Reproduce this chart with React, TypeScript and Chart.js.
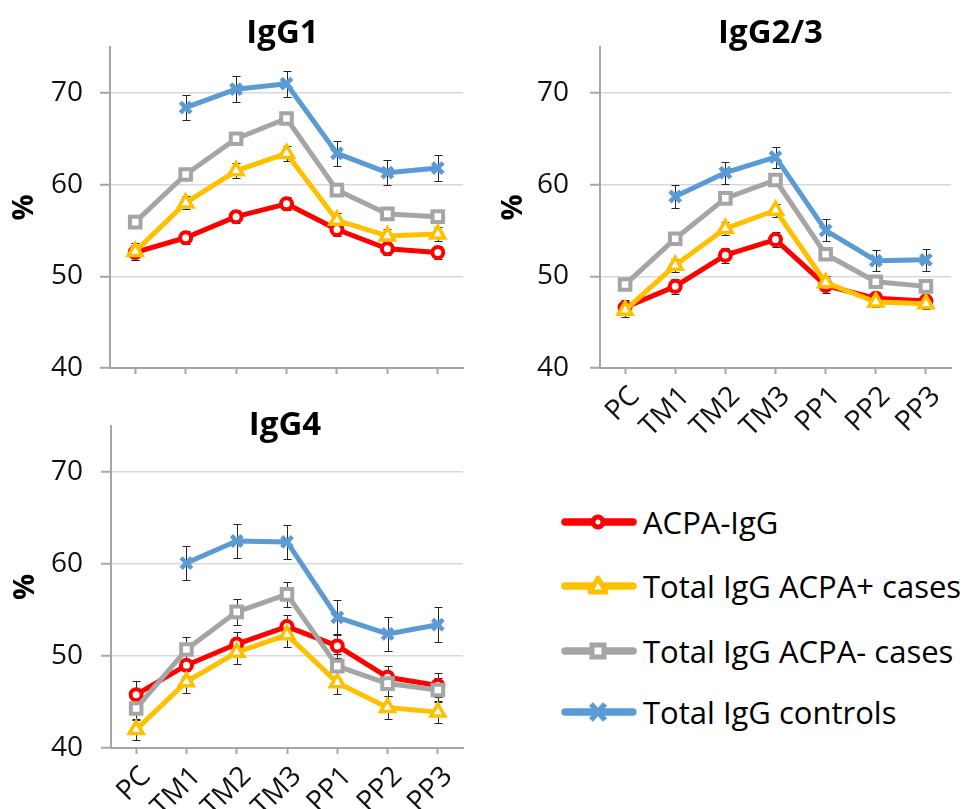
import React, { useEffect, useRef } from "react";
import { Chart, registerables } from "chart.js";

Chart.register(...registerables);

// ---------- data ----------
const categories = ["PC", "TM1", "TM2", "TM3", "PP1", "PP2", "PP3"];
const seriesNames = ["ACPA-IgG", "Total IgG ACPA+ cases", "Total IgG ACPA- cases", "Total IgG controls"];
const seriesColors = ["#FF0000", "#FFC000", "#A5A5A5", "#5B9BD5"];
const yMin = 40;
const yMax = 75;
const yStep = 10;

// IgG1
const igg1Acpa = [52.6, 54.2, 56.5, 57.9, 55.1, 53.0, 52.6];
const igg1Pos = [52.7, 58.0, 61.5, 63.4, 56.1, 54.4, 54.6];
const igg1Neg = [55.9, 61.1, 65.0, 67.2, 59.4, 56.8, 56.5];
const igg1Ctrl = [null, 68.4, 70.4, 71.0, 63.4, 61.3, 61.8];
const igg1AcpaErr = [0.8, 0.7, 0.7, 0.7, 0.7, 0.7, 0.7];
const igg1PosErr = [0.9, 0.7, 0.8, 0.8, 0.8, 0.8, 0.8];
const igg1NegErr = [0.5, 0.5, 0.5, 0.5, 0.5, 0.5, 0.5];
const igg1CtrlErr = [null, 1.4, 1.4, 1.4, 1.4, 1.4, 1.45];

// IgG2/3
const igg23Acpa = [46.6, 48.9, 52.3, 54.0, 49.0, 47.6, 47.3];
const igg23Pos = [46.3, 51.2, 55.2, 57.2, 49.3, 47.2, 47.0];
const igg23Neg = [49.1, 54.1, 58.5, 60.5, 52.4, 49.4, 48.9];
const igg23Ctrl = [null, 58.7, 61.3, 63.0, 55.0, 51.7, 51.8];
const igg23AcpaErr = [0.8, 0.8, 0.8, 0.8, 0.8, 0.7, 0.7];
const igg23PosErr = [0.7, 0.7, 0.7, 0.7, 0.7, 0.6, 0.6];
const igg23NegErr = [0.5, 0.5, 0.5, 0.5, 0.5, 0.5, 0.5];
const igg23CtrlErr = [null, 1.2, 1.2, 1.15, 1.2, 1.15, 1.2];

// IgG4
const igg4Acpa = [45.8, 49.0, 51.3, 53.2, 51.1, 47.7, 46.8];
const igg4Pos = [42.0, 47.2, 50.4, 52.3, 47.1, 44.4, 43.9];
const igg4Neg = [44.3, 50.7, 54.8, 56.7, 48.9, 47.0, 46.3];
const igg4Ctrl = [null, 60.1, 62.5, 62.4, 54.2, 52.4, 53.4];
const igg4AcpaErr = [1.5, 1.2, 1.3, 1.3, 1.3, 1.25, 1.3];
const igg4PosErr = [1.1, 1.2, 1.3, 1.3, 1.2, 1.2, 1.2];
const igg4NegErr = [1.3, 1.4, 1.4, 1.35, 1.3, 1.3, 1.3];
const igg4CtrlErr = [null, 1.85, 1.85, 1.85, 1.9, 1.85, 1.9];

const FONT = "'Open Sans', 'Noto Sans', sans-serif";
const AXIS_COLOR = "#A6A6A6";
const GRID_COLOR = "#D9D9D9";

// ---------- plugins ----------
const errorBarPlugin = {
  id: "errorBars",
  beforeDatasetsDraw(chart: any) {
    const { ctx } = chart;
    const xs = chart.scales.x;
    const ys = chart.scales.y;
    ctx.save();
    ctx.strokeStyle = "#262626";
    ctx.lineWidth = 1;
    chart.data.datasets.forEach((ds: any) => {
      const errs = ds.errors;
      if (!errs) return;
      ds.data.forEach((v: number | null, i: number) => {
        const e = errs[i];
        if (v == null || e == null) return;
        const x = Math.round(xs.getPixelForValue(i)) + 0.5;
        const y1 = Math.round(ys.getPixelForValue(v + e)) + 0.5;
        const y2 = Math.round(ys.getPixelForValue(v - e)) + 0.5;
        ctx.beginPath();
        ctx.moveTo(x, y1);
        ctx.lineTo(x, y2);
        ctx.moveTo(x - 4, y1);
        ctx.lineTo(x + 4, y1);
        ctx.moveTo(x - 4, y2);
        ctx.lineTo(x + 4, y2);
        ctx.stroke();
      });
    });
    ctx.restore();
  },
};

const panelTitlePlugin = {
  id: "panelTitle",
  afterDraw(chart: any, _args: any, opts: any) {
    if (!opts || !opts.text) return;
    const { ctx, chartArea } = chart;
    ctx.save();
    ctx.font = `bold 33px ${FONT}`;
    ctx.fillStyle = "#000";
    ctx.textAlign = "center";
    ctx.textBaseline = "alphabetic";
    ctx.fillText(opts.text, (chartArea.left + chartArea.right) / 2 + (opts.dx || 0), opts.baseline);
    ctx.restore();
  },
};

type PanelProps = {
  title: string;
  acpa: (number | null)[];
  pos: (number | null)[];
  neg: (number | null)[];
  ctrl: (number | null)[];
  acpaErr: (number | null)[];
  posErr: (number | null)[];
  negErr: (number | null)[];
  ctrlErr: (number | null)[];
  left: number;
  top: number;
  width: number;
  height: number;
  padTop: number;
  padRight: number;
  yAxisWidth: number;
  xAxisHeight: number;
  showX: boolean;
  titleBaseline: number;
  titleDx: number;
  yTitlePad: number;
  yTickPad: number;
};

function Panel(p: PanelProps) {
  const ref = useRef<HTMLCanvasElement>(null);
  useEffect(() => {
    const mk = (i: number, data: any[], errors: any[], style: string, radius: number, pbw: number) => ({
      label: seriesNames[i],
      data,
      errors,
      borderColor: seriesColors[i],
      backgroundColor: "#FFFFFF",
      borderWidth: 5,
      borderJoinStyle: "round",
      borderCapStyle: "round",
      pointStyle: style,
      pointRadius: radius,
      pointHoverRadius: radius,
      pointBorderWidth: pbw,
      pointBackgroundColor: "#FFFFFF",
      pointBorderColor: seriesColors[i],
      order: 4 - i,
      tension: 0,
    });
    const chart = new Chart(ref.current as HTMLCanvasElement, {
      type: "line",
      data: {
        labels: categories,
        datasets: [
          mk(0, p.acpa, p.acpaErr, "circle", 5.5, 4),
          mk(1, p.pos, p.posErr, "triangle", 8, 3.5),
          mk(2, p.neg, p.negErr, "rect", 7.5, 4),
          mk(3, p.ctrl, p.ctrlErr, "crossRot", 7.5, 4.5),
        ] as any,
      },
      options: {
        animation: false,
        responsive: false,
        events: [],
        layout: { padding: { top: p.padTop, right: p.padRight, left: 0, bottom: 0 } },
        plugins: {
          legend: { display: false },
          tooltip: { enabled: false },
          panelTitle: { text: p.title, baseline: p.titleBaseline, dx: p.titleDx },
        } as any,
        scales: {
          x: {
            type: "category",
            offset: true,
            grid: {
              display: true,
              drawOnChartArea: false,
              drawTicks: true,
              tickLength: 6,
              tickColor: AXIS_COLOR,
              tickWidth: 2,
              offset: false,
            },
            border: { display: true, color: AXIS_COLOR, width: 2 },
            ticks: {
              display: p.showX,
              autoSkip: false,
              maxRotation: 45,
              minRotation: 45,
              padding: 6,
              labelOffset: 10,
              color: "#111",
              font: { family: FONT, size: 28 },
            },
            afterFit(s: any) {
              s.height = p.xAxisHeight;
              s.paddingLeft = 0;
              s.paddingRight = 0;
            },
          },
          y: {
            min: yMin,
            max: yMax,
            ticks: {
              stepSize: yStep,
              includeBounds: false,
              padding: p.yTickPad,
              color: "#111",
              font: { family: FONT, size: 28 },
            },
            grid: {
              color: GRID_COLOR,
              lineWidth: 1.5,
              drawTicks: true,
              tickLength: 10,
              tickColor: AXIS_COLOR,
              tickWidth: 2,
            },
            border: { display: true, color: AXIS_COLOR, width: 2 },
            title: {
              display: true,
              text: "%",
              color: "#000",
              font: { family: FONT, size: 29, weight: "bold" },
              padding: { top: p.yTitlePad, bottom: 0 },
            },
            afterFit(s: any) {
              s.width = p.yAxisWidth;
              s.paddingTop = 0;
              s.paddingBottom = 0;
            },
          },
        } as any,
      },
      plugins: [errorBarPlugin, panelTitlePlugin],
    });
    return () => chart.destroy();
  }, []);
  return (
    <canvas
      ref={ref}
      width={p.width}
      height={p.height}
      style={{ position: "absolute", left: p.left, top: p.top, width: p.width, height: p.height }}
    />
  );
}

function LegendMarker({ i }: { i: number }) {
  const c = seriesColors[i];
  const cx = 37;
  const cy = 15;
  let marker: React.ReactNode = null;
  if (i === 0) marker = <circle cx={cx} cy={cy} r={5} fill="#fff" stroke={c} strokeWidth={5} />;
  if (i === 1)
    marker = (
      <polygon
        points={`${cx},${cy - 8} ${cx + 8},${cy + 6} ${cx - 8},${cy + 6}`}
        fill="#fff"
        stroke={c}
        strokeWidth={5}
        strokeLinejoin="round"
      />
    );
  if (i === 2) marker = <rect x={cx - 6} y={cy - 6} width={12} height={12} fill="#fff" stroke={c} strokeWidth={5} />;
  if (i === 3)
    marker = (
      <g stroke={c} strokeWidth={5.5} strokeLinecap="butt">
        <line x1={cx - 7} y1={cy - 8} x2={cx + 7} y2={cy + 8} />
        <line x1={cx + 7} y1={cy - 8} x2={cx - 7} y2={cy + 8} />
      </g>
    );
  return (
    <svg width={80} height={30} style={{ display: "block" }}>
      <line x1={4} y1={cy} x2={72} y2={cy} stroke={c} strokeWidth={7.5} strokeLinecap="round" />
      {marker}
    </svg>
  );
}

function Legend() {
  const centers = [522, 586, 651, 712];
  return (
    <>
      {seriesNames.map((name, i) => (
        <div
          key={name}
          style={{
            position: "absolute",
            left: 561,
            top: centers[i] - 20,
            height: 40,
            display: "flex",
            alignItems: "center",
            whiteSpace: "nowrap",
          }}
        >
          <LegendMarker i={i} />
          <span style={{ fontFamily: FONT, fontSize: 31, color: "#000", lineHeight: "40px", marginLeft: 2 }}>
            {name}
          </span>
        </div>
      ))}
    </>
  );
}

export default function App() {
  return (
    <div
      style={{
        position: "fixed",
        left: 0,
        top: 0,
        width: 963,
        height: 809,
        background: "#fff",
        overflow: "hidden",
      }}
    >
      <Panel
        title="IgG1"
        acpa={igg1Acpa}
        pos={igg1Pos}
        neg={igg1Neg}
        ctrl={igg1Ctrl}
        acpaErr={igg1AcpaErr}
        posErr={igg1PosErr}
        negErr={igg1NegErr}
        ctrlErr={igg1CtrlErr}
        left={0}
        top={0}
        width={480}
        height={390}
        padTop={47}
        padRight={17}
        yAxisWidth={110}
        xAxisHeight={22}
        showX={false}
        titleBaseline={43}
        titleDx={-4}
        yTitlePad={7}
        yTickPad={17}
      />
      <Panel
        title="IgG2/3"
        acpa={igg23Acpa}
        pos={igg23Pos}
        neg={igg23Neg}
        ctrl={igg23Ctrl}
        acpaErr={igg23AcpaErr}
        posErr={igg23PosErr}
        negErr={igg23NegErr}
        ctrlErr={igg23CtrlErr}
        left={480}
        top={0}
        width={483}
        height={460}
        padTop={47}
        padRight={10}
        yAxisWidth={120}
        xAxisHeight={92}
        showX={true}
        titleBaseline={43}
        titleDx={-5}
        yTitlePad={16}
        yTickPad={21}
      />
      <Panel
        title="IgG4"
        acpa={igg4Acpa}
        pos={igg4Pos}
        neg={igg4Neg}
        ctrl={igg4Ctrl}
        acpaErr={igg4AcpaErr}
        posErr={igg4PosErr}
        negErr={igg4NegErr}
        ctrlErr={igg4CtrlErr}
        left={0}
        top={390}
        width={480}
        height={419}
        padTop={36}
        padRight={17}
        yAxisWidth={111}
        xAxisHeight={61}
        showX={true}
        titleBaseline={45}
        titleDx={-2}
        yTitlePad={8}
        yTickPad={18}
      />
      <Legend />
    </div>
  );
}
